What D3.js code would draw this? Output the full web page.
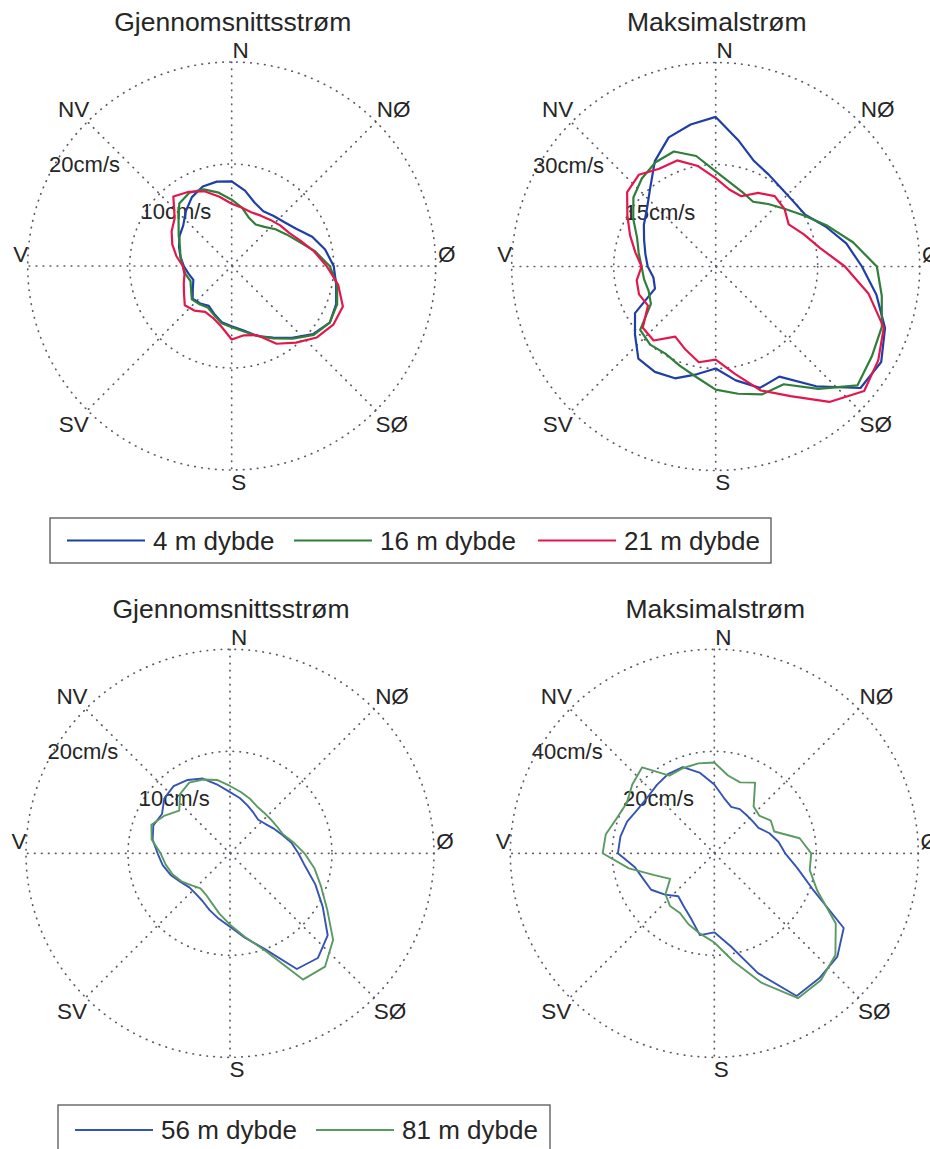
<!DOCTYPE html>
<html>
<head>
<meta charset="utf-8">
<script src="https://cdn.jsdelivr.net/npm/d3@7"></script>
<style>
  body { margin: 0; background: #fff; }
  svg { display: block; font-family: "Liberation Sans", Arial, sans-serif; }
</style>
</head>
<body>
<svg id="chart" width="930" height="1149"></svg>
<script>
// --- Data: current speed (cm/s) per compass bearing (degrees, 0 = N, clockwise) ---
const bearings = [0, 10, 20, 30, 40, 50, 60, 70, 80, 90, 100, 110, 120, 130, 140, 150, 160, 170,
  180, 190, 200, 210, 220, 230, 240, 250, 260, 270, 280, 290, 300, 310, 320, 330, 340, 350];

const compassNames = ["N", "NØ", "Ø", "SØ", "S", "SV", "V", "NV"];

// Top row: 4, 16, 21 m
const mean4m = [8.3, 7.5, 6.6, 6.2, 6.4, 6.7, 7.3, 8.4, 9.3, 10.0, 10.4, 10.9, 11.1, 10.4, 9.2, 8.1, 7.3, 6.4,
  5.9, 5.6, 5.0, 4.5, 4.8, 5.0, 4.4, 4.0, 4.3, 4.7, 5.1, 5.5, 5.9, 6.2, 7.0, 7.8, 8.3, 8.4];
const mean16m = [6.5, 5.8, 5.0, 4.7, 5.0, 5.6, 6.2, 7.0, 8.3, 9.6, 10.5, 11.0, 11.1, 10.5, 9.3, 8.2, 7.3, 6.5,
  6.0, 5.7, 5.1, 4.7, 4.9, 5.1, 4.6, 4.3, 4.6, 4.8, 5.1, 5.4, 6.0, 6.8, 8.0, 8.3, 8.0, 7.3];
const mean21m = [6.1, 5.8, 5.6, 5.7, 5.9, 6.2, 6.5, 7.2, 8.2, 9.3, 10.6, 11.6, 11.5, 10.9, 9.8, 8.8, 7.2, 6.9,
  7.2, 6.0, 5.4, 5.2, 5.7, 6.0, 5.4, 5.0, 4.7, 4.8, 5.5, 6.2, 6.8, 7.3, 8.9, 8.4, 7.8, 6.9];

const max4m = [22.0, 18.9, 16.5, 15.6, 15.0, 14.9, 15.2, 17.2, 19.5, 21.5, 24.0, 26.5, 28.1, 27.8, 23.0, 18.7, 19.0, 17.0,
  15.0, 16.1, 17.5, 17.9, 17.7, 15.5, 13.7, 9.5, 9.3, 10.0, 10.5, 11.2, 12.2, 13.2, 15.0, 17.9, 20.2, 21.2];
const max16m = [14.0, 12.5, 11.6, 11.0, 12.0, 13.2, 15.0, 17.5, 20.5, 23.7, 24.8, 26.0, 26.5, 27.2, 23.5, 20.0, 20.0, 19.0,
  18.1, 16.5, 15.5, 14.8, 15.0, 14.5, 11.0, 10.5, 10.7, 10.9, 11.5, 12.3, 14.0, 15.8, 16.9, 17.7, 18.0, 16.5];
const max21m = [13.0, 11.5, 11.0, 12.5, 13.5, 13.2, 12.4, 13.8, 15.6, 19.0, 22.8, 26.3, 27.6, 28.5, 26.0, 22.0, 19.4, 16.0,
  13.7, 14.3, 13.0, 11.9, 14.2, 14.0, 11.5, 12.0, 11.8, 10.9, 12.0, 13.4, 15.0, 17.0, 17.6, 16.6, 16.6, 15.0];

// Bottom row: 56, 81 m
const mean56m = [6.0, 5.5, 5.0, 4.6, 4.3, 4.5, 4.9, 5.4, 6.1, 6.7, 7.5, 8.9, 10.5, 12.5, 13.4, 13.1, 10.0, 8.4,
  7.2, 6.5, 5.9, 5.4, 5.2, 5.2, 5.6, 6.2, 6.7, 7.1, 7.7, 8.0, 7.7, 8.4, 8.6, 8.3, 7.8, 6.8];
const mean81m = [6.6, 6.1, 5.7, 5.3, 5.2, 5.2, 5.3, 5.5, 6.3, 7.3, 8.4, 9.5, 11.0, 13.2, 14.5, 14.3, 10.2, 8.3,
  7.0, 6.0, 5.2, 4.7, 4.5, 4.9, 5.5, 6.0, 6.4, 6.8, 7.8, 8.2, 7.4, 6.5, 7.6, 8.0, 7.7, 7.3];

const max56m = [13.5, 11.0, 9.7, 10.0, 9.8, 9.8, 10.0, 11.5, 12.8, 13.9, 16.5, 20.5, 29.3, 31.5, 32.0, 32.3, 25.0, 18.5,
  15.5, 16.3, 13.5, 12.0, 11.0, 12.6, 14.3, 14.8, 15.8, 18.9, 18.7, 18.2, 17.3, 17.1, 17.5, 18.0, 18.0, 16.0];
const max81m = [17.8, 15.5, 14.8, 16.0, 12.0, 11.5, 12.8, 12.5, 17.0, 19.0, 19.0, 21.5, 27.5, 31.0, 32.5, 32.8, 27.0, 21.5,
  17.5, 16.0, 14.8, 13.5, 13.5, 12.5, 10.0, 12.5, 17.0, 21.9, 21.6, 20.3, 19.8, 21.0, 22.0, 17.6, 17.8, 17.9];

const meanTicks = [10, 20];
const maxTicksTop = [15, 30];
const maxTicksBottom = [20, 40];

const titles = ["Gjennomsnittsstrøm", "Maksimalstrøm"];
const legendTop = ["4 m dybde", "16 m dybde", "21 m dybde"];
const legendBottom = ["56 m dybde", "81 m dybde"];

// --- Layout / style ---
const R = 204;
const topColors = ["#1f3fa6", "#2f7f3a", "#e3174c"];
const bottomColors = ["#3454b4", "#5b9a62"];
const textColor = "#262626";
// label offsets from plot centre (order follows compassNames)
const compassOffsets = [[9, -216], [162, -157], [215, -12], [160, 158], [7, 216], [-158, 158], [-211, -12], [-158, -157]];

const panels = [
  { cx: 231.7, cy: 266, title: titles[0], ticks: meanTicks,
    series: [mean4m, mean16m, mean21m], colors: topColors, lw: 2.2 },
  { cx: 715.7, cy: 266.5, title: titles[1], ticks: maxTicksTop,
    series: [max4m, max16m, max21m], colors: topColors, lw: 2.2 },
  { cx: 230, cy: 853.3, title: titles[0], ticks: meanTicks,
    series: [mean56m, mean81m], colors: bottomColors, lw: 1.9 },
  { cx: 714.3, cy: 853.3, title: titles[1], ticks: maxTicksBottom,
    series: [max56m, max81m], colors: bottomColors, lw: 1.9 },
];

const svg = d3.select("#chart");
const rad = (d) => (d * Math.PI) / 180;

function drawPanel(p) {
  const g = svg.append("g").attr("transform", `translate(${p.cx},${p.cy})`);
  const r = d3.scaleLinear().domain([0, p.ticks[p.ticks.length - 1]]).range([0, R]);

  const dotted = (sel) => sel
    .attr("fill", "none")
    .attr("stroke", "#5a5a66")
    .attr("stroke-width", 1.7)
    .attr("stroke-linecap", "round")
    .attr("stroke-dasharray", "0.5,6.5");

  // rings
  g.selectAll("circle.ring")
    .data(p.ticks)
    .enter()
    .append("circle")
    .attr("class", "ring")
    .attr("r", (d) => r(d))
    .call(dotted);

  // spokes (full diameters)
  g.selectAll("line.spoke")
    .data([0, 45, 90, 135])
    .enter()
    .append("line")
    .attr("class", "spoke")
    .attr("x1", (d) => R * Math.sin(rad(d)))
    .attr("y1", (d) => -R * Math.cos(rad(d)))
    .attr("x2", (d) => -R * Math.sin(rad(d)))
    .attr("y2", (d) => R * Math.cos(rad(d)))
    .call(dotted);

  // ring labels
  g.selectAll("text.tick")
    .data(p.ticks)
    .enter()
    .append("text")
    .attr("class", "tick")
    .attr("x", (d) => -0.895 * r(d))
    .attr("y", (d) => -0.46 * r(d))
    .attr("font-size", 22)
    .attr("fill", textColor)
    .text((d) => `${d}cm/s`);

  // compass labels
  g.selectAll("text.compass")
    .data(compassNames)
    .enter()
    .append("text")
    .attr("class", "compass")
    .attr("x", (d, i) => compassOffsets[i][0])
    .attr("y", (d, i) => compassOffsets[i][1])
    .attr("text-anchor", "middle")
    .attr("dominant-baseline", "central")
    .attr("font-size", 22.5)
    .attr("fill", textColor)
    .text((d) => d);

  // title
  g.append("text")
    .attr("x", 1)
    .attr("y", -235.5)
    .attr("text-anchor", "middle")
    .attr("font-size", 26.5)
    .attr("fill", textColor)
    .text(p.title);

  // series
  const line = d3.lineRadial()
    .angle((d, i) => rad(bearings[i]))
    .radius((d) => r(d))
    .curve(d3.curveLinearClosed);

  p.series.forEach((vals, i) => {
    g.append("path")
      .attr("d", line(vals))
      .attr("fill", "none")
      .attr("stroke", p.colors[i])
      .attr("stroke-width", p.lw)
      .attr("stroke-linejoin", "round");
  });
}

panels.forEach(drawPanel);

// --- Legends ---
function drawLegend(box, labels, colors, lineStarts, lw) {
  const g = svg.append("g");
  g.append("rect")
    .attr("x", box.x).attr("y", box.y)
    .attr("width", box.w).attr("height", box.h)
    .attr("fill", "#fff")
    .attr("stroke", "#555")
    .attr("stroke-width", 1.3);
  const cy = box.y + box.h / 2;
  labels.forEach((lab, i) => {
    g.append("line")
      .attr("x1", lineStarts[i]).attr("x2", lineStarts[i] + 78)
      .attr("y1", cy).attr("y2", cy)
      .attr("stroke", colors[i]).attr("stroke-width", lw);
    g.append("text")
      .attr("x", lineStarts[i] + 86)
      .attr("y", cy)
      .attr("dominant-baseline", "central")
      .attr("font-size", 26)
      .attr("fill", textColor)
      .text(lab);
  });
}

drawLegend({ x: 50, y: 518, w: 721, h: 45 }, legendTop, topColors, [67, 294, 538], 2);
drawLegend({ x: 58, y: 1105, w: 492, h: 50 }, legendBottom, bottomColors, [75, 316], 1.8);
</script>
</body>
</html>
